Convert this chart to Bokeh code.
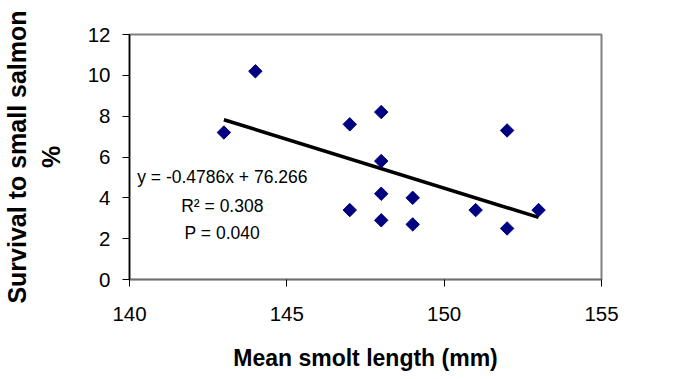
import math
from bokeh.plotting import figure
from bokeh.models import Range1d, FixedTicker, Label, ColumnDataSource
from bokeh.embed import file_html
from bokeh.resources import INLINE

# Data
smolt_length = [143, 144, 147, 147, 148, 148, 148, 148, 149, 149, 151, 152, 152, 153]
survival = [7.2, 10.2, 7.6, 3.4, 8.2, 5.8, 4.2, 2.9, 4.0, 2.7, 3.4, 7.3, 2.5, 3.4]
slope = -0.4786
intercept = 76.266
x_ticks = [140, 145, 150, 155]
y_ticks = [0, 2, 4, 6, 8, 10, 12]
eq_lines = ["y = -0.4786x + 76.266", "R\u00b2 = 0.308", "P = 0.040"]

FONT = "Liberation Sans"

p = figure(width=674, height=379, output_backend="svg", toolbar_location=None,
           x_range=Range1d(140, 155), y_range=Range1d(0, 12),
           min_border_left=129, min_border_right=73, min_border_top=34,
           min_border_bottom=100)
p.background_fill_color = "white"
p.border_fill_color = "white"
p.outline_line_color = "#808080"
p.outline_line_width = 2
p.grid.visible = False

# axes
for ax in (p.xaxis[0], p.yaxis[0]):
    ax.major_label_text_font = FONT
    ax.major_label_text_font_size = "20.5px"
    ax.major_label_text_color = "black"
    ax.axis_label_text_font = FONT
    ax.axis_label_text_font_style = "bold"
    ax.axis_label_text_color = "black"
    ax.major_tick_in = 0
    ax.major_tick_out = 7
    ax.minor_tick_line_color = None
    ax.major_tick_line_color = "black"
    ax.axis_line_color = "black"
    ax.axis_line_width = 1.5

p.xaxis.ticker = FixedTicker(ticks=x_ticks)
p.yaxis.ticker = FixedTicker(ticks=y_ticks)
p.xaxis.axis_line_color = "#707070"
p.xaxis.major_label_standoff = 20
p.yaxis.major_label_standoff = 12
p.xaxis.axis_label = "Mean smolt length (mm)"
p.yaxis.axis_label = "Survival to small salmon\n%"
p.xaxis.axis_label_text_font_size = "23px"
p.yaxis.axis_label_text_font_size = "25px"
p.xaxis.axis_label_standoff = 21
p.yaxis.axis_label_standoff = 20

# trend line from the regression values
x_lo, x_hi = min(smolt_length), max(smolt_length)
trend = ColumnDataSource(dict(x=[x_lo, x_hi],
                              y=[slope * x_lo + intercept, slope * x_hi + intercept]))
p.line("x", "y", source=trend, line_color="black", line_width=3.5)

# points
src = ColumnDataSource(dict(x=smolt_length, y=survival))
p.scatter("x", "y", source=src, marker="square", size=9.5, angle=math.pi / 4,
          fill_color="#000080", line_color="#000080")

# equation text
eq_y = [5.0, 3.58, 2.3]
for txt, yy in zip(eq_lines, eq_y):
    p.add_layout(Label(x=142.95, y=yy, text=txt, text_align="center",
                       text_baseline="middle", text_font=FONT,
                       text_font_size="17.5px", text_color="black"))

open("out.html", "w").write(file_html(p, INLINE))
